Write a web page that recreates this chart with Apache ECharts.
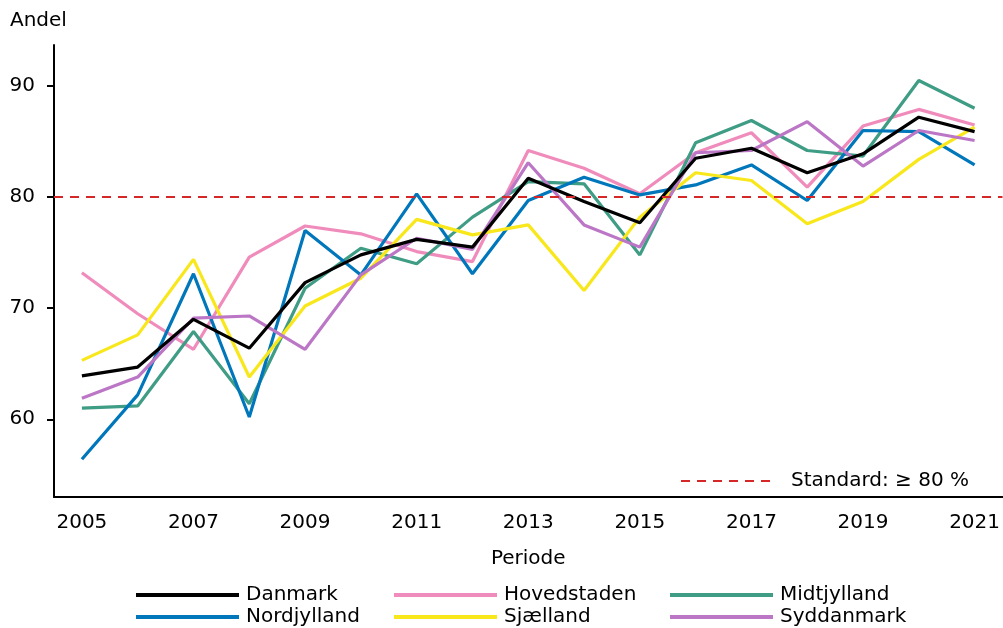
<!DOCTYPE html>
<html>
<head>
<meta charset="utf-8">
<script src="https://cdn.jsdelivr.net/npm/echarts@6/dist/echarts.min.js"></script>
<style>
  html, body {margin: 0; padding: 0; background: #fff;}
  #chart {width: 1003px; height: 628px;}
</style>
</head>
<body>
<div id="chart"></div>
<script>
const years = ["2005", "2006", "2007", "2008", "2009", "2010", "2011", "2012", "2013",
  "2014", "2015", "2016", "2017", "2018", "2019", "2020", "2021"];

const danmark = [63.9, 64.7, 69.0, 66.4, 72.3, 74.8, 76.2, 75.5, 81.7, 79.6, 77.7, 83.5, 84.4, 82.2, 83.9, 87.2, 85.9];
const hovedstaden = [73.2, 69.5, 66.3, 74.6, 77.4, 76.7, 75.1, 74.2, 84.2, 82.6, 80.3, 84.0, 85.8, 80.9, 86.4, 87.9, 86.5];
const midtjylland = [61.0, 61.2, 67.9, 61.4, 71.8, 75.4, 74.0, 78.2, 81.4, 81.2, 74.8, 84.9, 86.9, 84.2, 83.7, 90.5, 88.0];
const nordjylland = [56.4, 62.2, 73.1, 60.2, 77.0, 73.0, 80.3, 73.1, 79.7, 81.8, 80.2, 81.1, 82.9, 79.7, 86.0, 85.9, 82.9];
const sjaelland = [65.3, 67.6, 74.4, 63.8, 70.2, 72.7, 78.0, 76.6, 77.5, 71.6, 78.2, 82.2, 81.5, 77.6, 79.6, 83.4, 86.3];
const syddanmark = [61.9, 63.8, 69.1, 69.3, 66.3, 73.0, 76.3, 75.3, 83.1, 77.5, 75.5, 84.0, 84.2, 86.8, 82.8, 86.0, 85.1];

const standardValue = 80;
const standardName = "Standard: \u2265 80 %";
const yTicks = [60, 70, 80, 90];

const FONT = "DejaVu Sans";
const FS = 20;

const regions = [
  {name: "Danmark", data: danmark, color: "#000000"},
  {name: "Hovedstaden", data: hovedstaden, color: "#f08cbc"},
  {name: "Midtjylland", data: midtjylland, color: "#3f9c85"},
  {name: "Nordjylland", data: nordjylland, color: "#0077bb"},
  {name: "Sjælland", data: sjaelland, color: "#f8e71a"},
  {name: "Syddanmark", data: syddanmark, color: "#bb77c6"},
];

const lineSeries = regions.map(r => ({
  name: r.name,
  type: "line",
  data: r.data,
  symbol: "none",
  color: r.color,
  lineStyle: {color: r.color, width: 3.2},
  z: r.name === "Danmark" ? 3 : 2,
}));

const standardSeries = {
  name: standardName,
  type: "line",
  data: [],
  symbol: "none",
  color: "#d62728",
  lineStyle: {color: "#d62728", width: 2, type: [9, 7]},
  markLine: {
    silent: true,
    symbol: "none",
    label: {show: false},
    lineStyle: {color: "#d62728", width: 2, type: [9, 7]},
    data: [{yAxis: standardValue}],
  },
};

// vertical legends, one per column, so the columns line up
const legendBase = {
  orient: "vertical",
  padding: 0,
  itemWidth: 103,
  itemHeight: 14,
  itemGap: 2,
  selectedMode: false,
  itemStyle: {opacity: 0},
  lineStyle: {width: 4},
  textStyle: {fontFamily: FONT, fontSize: FS, lineHeight: 20, color: "#000", padding: [0, 0, 0, 2]},
};

const chart = echarts.init(document.getElementById("chart"));
chart.setOption({
  backgroundColor: "#fff",
  animation: false,
  textStyle: {fontFamily: FONT},
  grid: {left: 54, right: -1, top: 45, bottom: 131, containLabel: false},
  legend: [
    Object.assign({}, legendBase, {data: ["Danmark", "Nordjylland"], left: 134, top: 585}),
    Object.assign({}, legendBase, {data: ["Hovedstaden", "Sjælland"], left: 392, top: 585}),
    Object.assign({}, legendBase, {data: ["Midtjylland", "Syddanmark"], left: 668, top: 585}),
    {
      data: [standardName],
      padding: 0,
      left: 680, top: 471,
      itemWidth: 95, itemHeight: 14,
      selectedMode: false,
      itemStyle: {opacity: 0},
      lineStyle: {width: 2},
      textStyle: {fontFamily: FONT, fontSize: FS, color: "#000", padding: [0, 0, 0, 10]},
    },
  ],
  xAxis: [
    {
      type: "category",
      data: years,
      boundaryGap: true,
      name: "Periode",
      nameLocation: "middle",
      nameGap: 52,
      nameTextStyle: {fontFamily: FONT, fontSize: FS, color: "#000"},
      axisLine: {lineStyle: {color: "#000", width: 2}},
      axisTick: {alignWithLabel: true, interval: 1, length: 9, lineStyle: {color: "#000", width: 2}},
      axisLabel: {interval: 1, margin: 16, fontFamily: FONT, fontSize: FS, color: "#000"},
      splitLine: {show: false},
    },
    {
      type: "category",
      data: years,
      boundaryGap: true,
      position: "bottom",
      axisLine: {show: false},
      axisTick: {alignWithLabel: true, interval: 0, length: 4, lineStyle: {color: "#000", width: 2}},
      axisLabel: {show: false},
      splitLine: {show: false},
    },
  ],
  yAxis: {
    type: "value",
    min: 53,
    max: 93.7,
    name: "Andel",
    nameLocation: "end",
    nameGap: 14,
    nameTextStyle: {fontFamily: FONT, fontSize: FS, color: "#000", align: "left", padding: [0, 0, 0, -44]},
    axisLine: {show: true, lineStyle: {color: "#000", width: 2}},
    axisTick: {show: true, length: 7, customValues: yTicks, lineStyle: {color: "#000", width: 2}},
    axisLabel: {customValues: yTicks, margin: 19, fontFamily: FONT, fontSize: FS, color: "#000"},
    splitLine: {show: false},
  },
  series: lineSeries.concat([standardSeries]),
});
</script>
</body>
</html>
